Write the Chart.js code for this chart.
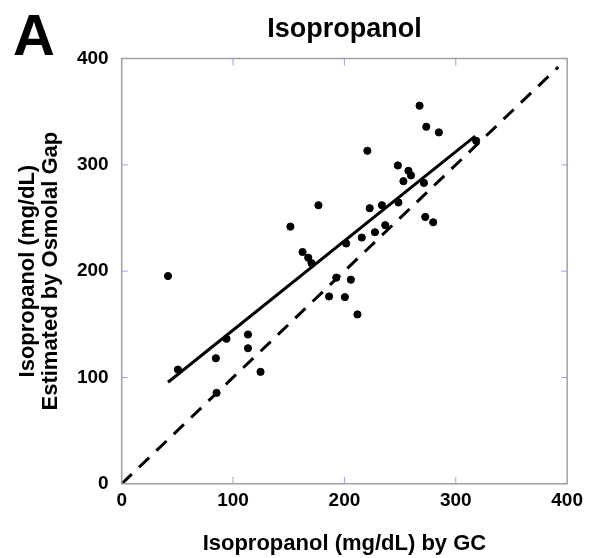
<!DOCTYPE html>
<html>
<head>
<meta charset="utf-8">
<script src="https://cdn.jsdelivr.net/npm/chart.js@4/dist/chart.umd.min.js"></script>
<style>
  html, body { margin: 0; padding: 0; background: #fff; }
  #wrap { width: 589px; height: 558px; }
</style>
</head>
<body>
<div id="wrap"><canvas id="chart"></canvas></div>
<script>
// values (mg/dL)
const gcValues = [41.6, 50.5, 84.6, 85.2, 94.1, 113.4, 113.4, 124.7, 151.5, 162.4,
  167.5, 170.4, 176.7, 186.2, 192.7, 200.4, 201.6, 205.8, 211.7, 215.6,
  220.6, 222.7, 227.4, 233.7, 236.7, 248, 248.5, 253, 257.5, 259.8,
  267.5, 271.4, 272.6, 273.5, 279.7, 284.8, 318.3];
const osmolalValues = [195.4, 107.4, 118.1, 85.5, 136.4, 140.4, 127.5, 105.3, 241.9, 218,
  212.7, 207.6, 262, 176.2, 193.9, 175.6, 226, 192, 159.3, 231.6,
  313.2, 259.2, 236.6, 262, 243.2, 299.4, 264.6, 284.6, 294.4, 290,
  355.6, 283, 251, 335.8, 246, 330.5, 322.6];
const fitX = [41.6, 317.4];
const fitY = [95.5, 327];
const identityX = [0, 392];
const identityY = [0, 392];
const tickValues = [0, 100, 200, 300, 400];

const FONT = '"Liberation Sans", Arial, sans-serif';

const toPoints = (xs, ys) => xs.map((x, i) => ({ x: x, y: ys[i] }));

// frame, inner ticks, panel letter and title
const framePlugin = {
  id: 'frame',
  afterDraw(chart) {
    const { ctx, chartArea: a, scales } = chart;
    ctx.save();
    ctx.strokeStyle = '#9c9cf0';
    ctx.lineWidth = 1;
    tickValues.slice(1, -1).forEach((v) => {
      const px = scales.x.getPixelForValue(v);
      const py = scales.y.getPixelForValue(v);
      ctx.beginPath();
      ctx.moveTo(px, a.bottom); ctx.lineTo(px, a.bottom - 7);
      ctx.moveTo(px, a.top); ctx.lineTo(px, a.top + 7);
      ctx.moveTo(a.left, py); ctx.lineTo(a.left + 6, py);
      ctx.moveTo(a.right, py); ctx.lineTo(a.right - 6, py);
      ctx.stroke();
    });
    ctx.strokeStyle = '#a0a0a0';
    ctx.lineWidth = 1.5;
    ctx.strokeRect(a.left, a.top, a.right - a.left, a.bottom - a.top);

    ctx.fillStyle = '#000';
    ctx.textBaseline = 'alphabetic';
    ctx.textAlign = 'left';
    ctx.font = 'bold 58px ' + FONT;
    ctx.fillText('A', 13, 55);
    ctx.textAlign = 'center';
    ctx.font = 'bold 27px ' + FONT;
    ctx.fillText('Isopropanol', (a.left + a.right) / 2, 37);
    ctx.restore();
  }
};

new Chart(document.getElementById('chart'), {
  type: 'scatter',
  data: {
    datasets: [
      {
        label: 'Samples',
        data: toPoints(gcValues, osmolalValues),
        backgroundColor: '#000',
        borderColor: '#000',
        pointRadius: 3.6,
        order: 0
      },
      {
        type: 'line',
        label: 'Regression',
        data: toPoints(fitX, fitY),
        borderColor: '#000',
        borderWidth: 3,
        pointRadius: 0,
        fill: false,
        order: 1
      },
      {
        type: 'line',
        label: 'Identity',
        data: toPoints(identityX, identityY),
        borderColor: '#000',
        borderWidth: 3,
        borderDash: [14, 10],
        pointRadius: 0,
        fill: false,
        order: 2
      }
    ]
  },
  options: {
    responsive: true,
    maintainAspectRatio: false,
    animation: false,
    layout: { padding: { top: 58.5, right: 18, bottom: 0, left: 0 } },
    plugins: {
      legend: { display: false },
      tooltip: { enabled: false }
    },
    scales: {
      x: {
        type: 'linear',
        min: 0,
        max: 400,
        grid: { display: false, drawTicks: false },
        border: { display: false },
        ticks: {
          stepSize: 100,
          padding: 6,
          color: '#000',
          font: { family: FONT, size: 19, weight: 'bold', lineHeight: 1.2 }
        },
        title: {
          display: true,
          text: 'Isopropanol (mg/dL) by GC',
          color: '#000',
          padding: { top: 12, bottom: 1 },
          font: { family: FONT, size: 22, weight: 'bold', lineHeight: 1.2 }
        }
      },
      y: {
        type: 'linear',
        min: 0,
        max: 400,
        grid: { display: false, drawTicks: false },
        border: { display: false },
        ticks: {
          stepSize: 100,
          padding: 13,
          color: '#000',
          font: { family: FONT, size: 19, weight: 'bold', lineHeight: 1.2 }
        },
        title: {
          display: true,
          text: ['Isopropanol (mg/dL)', 'Estimated by Osmolal Gap'],
          color: '#000',
          padding: { top: 16, bottom: 2 },
          font: { family: FONT, size: 22, weight: 'bold', lineHeight: 1.045 }
        }
      }
    }
  },
  plugins: [framePlugin]
});
</script>
</body>
</html>
